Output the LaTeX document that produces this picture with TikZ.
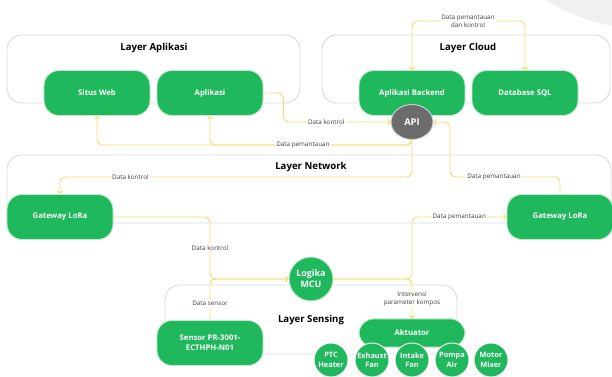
\documentclass[tikz,border=0pt]{standalone}
\usepackage{fontspec}
\setmainfont{Open Sans}
\usetikzlibrary{arrows.meta,shapes.geometric}

\definecolor{hijau}{RGB}{32,184,92}
\definecolor{hijaumuda}{RGB}{196,234,206}
\definecolor{kuning}{RGB}{247,218,110}
\definecolor{garis}{RGB}{218,218,218}
\definecolor{abu}{RGB}{108,108,108}

\tikzset{
  layerbox/.style={draw=garis, line width=0.8pt, rounded corners=0.45cm},
  layertitle/.style={font=\bfseries\fontsize{8.2}{9}\selectfont},
  blok/.style={draw=hijaumuda, line width=0.8pt, fill=hijau, text=white, rounded corners=0.45cm,
    minimum width=3.18cm, minimum height=1.35cm, align=center,
    font=\bfseries\fontsize{6.6}{8.4}\selectfont},
  bulat/.style={circle, draw=white, line width=0.8pt, fill=hijau, text=white, inner sep=0pt,
    minimum size=1.02cm, align=center, font=\bfseries\fontsize{6.3}{8}\selectfont},
  alur/.style={draw=kuning, line width=0.8pt, rounded corners=5pt, -{Straight Barb[length=2pt,width=4.5pt]}},
  ket/.style={fill=white, inner sep=1pt, align=center, text=black!75, font=\fontsize{5.4}{6.6}\selectfont}
}

\begin{document}
\begin{tikzpicture}[x=0.03cm,y=-0.03cm]
		\useasboundingbox (0,0) rectangle (612,377);
		\fill[gray!12] (642,-150) circle (5.34cm);

		\draw[layerbox] (7,35)    rectangle (300,103);
		\draw[layerbox] (322,35)  rectangle (610,103);
		\draw[layerbox] (7,155)   rectangle (611,223);
		\draw[layerbox] (165,285) rectangle (457,354);
		\node[layertitle] (tapl)  at (154,48)  {Layer Aplikasi};
		\node[layertitle] (tcld)  at (468,48)  {Layer Cloud};
		\node[layertitle] (tnet)  at (311,167) {Layer Network};
		\node[layertitle] (tsens) at (311,320) {Layer Sensing};

		\path
		node[blok] (situs)    at (97,93)   {Situs Web}
		node[blok] (aplikasi) at (210,93)  {Aplikasi}
		node[blok] (backend)  at (412,93)  {Aplikasi Backend}
		node[blok] (database) at (525,93)  {Database SQL}
		node[blok] (gwkiri)   at (60,217)  {Gateway LoRa}
		node[blok] (gwkanan)  at (560,217) {Gateway LoRa}
		node[blok] (sensor)   at (210,343) {Sensor PR-3001-\\ECTHPH-N01}
		node[blok,minimum height=0.85cm] (aktuator) at (412,333) {Aktuator};
		\path
		node[bulat] (ptc)     at (331,360) {PTC\\Heater}
		node[bulat] (exhaust) at (372,360) {Exhaust\\Fan}
		node[bulat] (intake)  at (412,360) {Intake\\Fan}
		node[bulat] (pompa)   at (452,360) {Pompa\\Air}
		node[bulat] (motor)   at (491,360) {Motor\\Mixer};
		\node[ellipse, draw=gray!35, line width=0.8pt, fill=abu, text=white, minimum width=1.26cm, minimum height=1.05cm,
		  font=\bfseries\fontsize{8}{9}\selectfont] (api) at (412,122) {API};
		\node[circle, draw=hijaumuda, line width=0.8pt, fill=hijau, text=white, inner sep=0pt, minimum size=1.32cm, align=center,
		  font=\bfseries\fontsize{7.6}{9.6}\selectfont] (mcu) at (311,279) {Logika\\MCU};

		\coordinate (atas)   at (468,21);
		\coordinate (busapl) at (97,145);
		\coordinate (busgw)  at (60,177);
		\coordinate (busapi) at (450,177);

		\draw[alur,{Straight Barb[length=2pt,width=4.5pt]}-{Straight Barb[length=2pt,width=4.5pt]}] (backend.north) |- (atas) -| (database.north);
		\node[ket] (ketatas) at (atas) {Data pemantauan\\dan kontrol};
		\draw[alur] (aplikasi.east) -- ++(20,0) |- (api.west) node[ket,pos=0.7] {Data kontrol};
		\draw[alur] (api.south) |- (busapl) -- (situs.south);
		\draw[alur] (api.south) |- (aplikasi.south |- busapl) node[ket,pos=0.77] {Data pemantauan} -- (aplikasi.south);
		\draw[alur] (api.south) |- (busgw) node[ket,pos=0.9] {Data kontrol} -- (gwkiri.north);
		\draw[alur] (gwkanan.north) |- (busapi) node[ket,pos=0.8] {Data pemantauan} |- (api.east);
		\draw[alur] (gwkiri.east) -| (sensor.north |- mcu.west) node[ket,pos=0.75] {Data kontrol} -- (mcu.west);
		\draw[alur] (sensor.north) |- (mcu.west) node[ket,pos=0.2] {Data sensor};
		\draw[alur] (mcu.east) -| (aktuator.north |- gwkanan.west) -- (gwkanan.west) node[ket,midway] {Data pemantauan};
		\draw[alur] (mcu.east) -| (aktuator.north) node[ket,pos=0.75] {Intervensi\\parameter kompos};
\end{tikzpicture}
\end{document}
